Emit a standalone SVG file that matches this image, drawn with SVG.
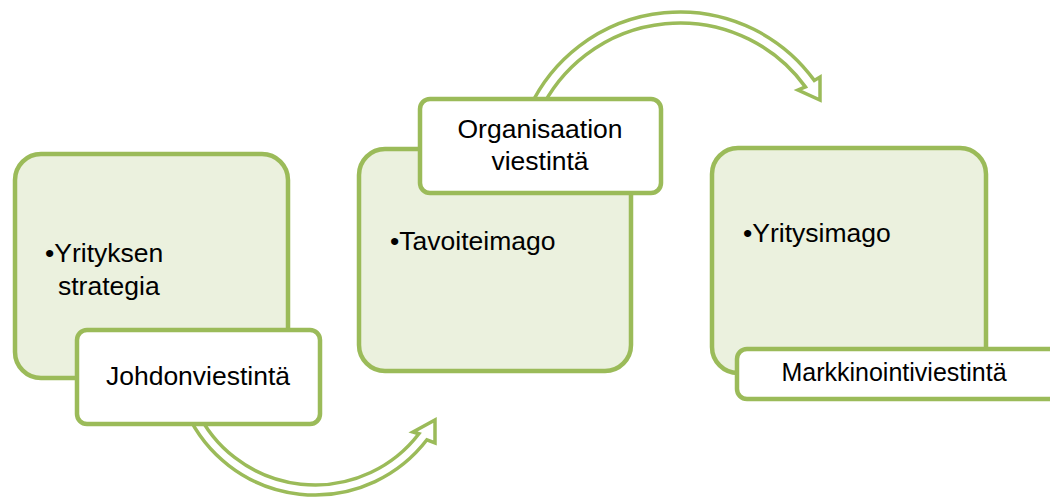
<svg xmlns="http://www.w3.org/2000/svg" width="1050" height="497" viewBox="0 0 1050 497">
<style>
.big{fill:#EBF1DE;stroke:#9BBB59;stroke-width:4.5}
.lab{fill:#FFFFFF;stroke:#9BBB59;stroke-width:4.5}
.arr{fill:#FFFFFF;stroke:#9BBB59;stroke-width:3.5;stroke-linejoin:miter}
text{font-family:"Liberation Sans",Arial,sans-serif;fill:#000000}
.t{font-size:26.5px}
.m{font-size:25px}
</style>
<rect width="1050" height="497" fill="#FFFFFF"/>
<g id="node-yrityksen-strategia">
<rect class="big" x="15" y="154" width="273" height="224" rx="26"/>
<text class="t" x="45" y="262">•Yrityksen</text>
<text class="t" x="58" y="295">strategia</text>
</g>
<g id="node-tavoiteimago">
<rect class="big" x="359" y="149" width="272" height="222" rx="26"/>
<text class="t" x="390" y="250">•Tavoiteimago</text>
</g>
<g id="node-yritysimago">
<rect class="big" x="712" y="148" width="274" height="225" rx="26"/>
<text class="t" x="743" y="242">•Yritysimago</text>
</g>
<g id="connectors">
<path class="arr" d="M 187.2,413.6 A 141 141 0 0 0 426.9,439.8 L 435,443 L 435,420 L 413,432 L 418.9,433.7 A 131 131 0 0 1 196.3,409.4 Z"/>
<path class="arr" d="M 529.6,107.8 A 166 166 0 0 1 814.3,80.4 L 820,77 L 820,100 L 798,90 L 805.4,86.9 A 155 155 0 0 0 539.5,112.5 Z"/>
</g>
<g id="node-johdonviestinta">
<rect class="lab" x="77" y="330" width="243" height="94" rx="10"/>
<text class="t" x="198" y="385" text-anchor="middle">Johdonviestintä</text>
</g>
<g id="node-organisaation-viestinta">
<rect class="lab" x="420" y="99" width="241" height="94" rx="10"/>
<text class="t" x="540" y="138" text-anchor="middle">Organisaation</text>
<text class="t" x="540" y="170" text-anchor="middle">viestintä</text>
</g>
<g id="node-markkinointiviestinta">
<rect class="lab" x="737" y="349" width="330" height="50" rx="10"/>
<text class="m" x="894" y="381" text-anchor="middle">Markkinointiviestintä</text>
</g>
</svg>
